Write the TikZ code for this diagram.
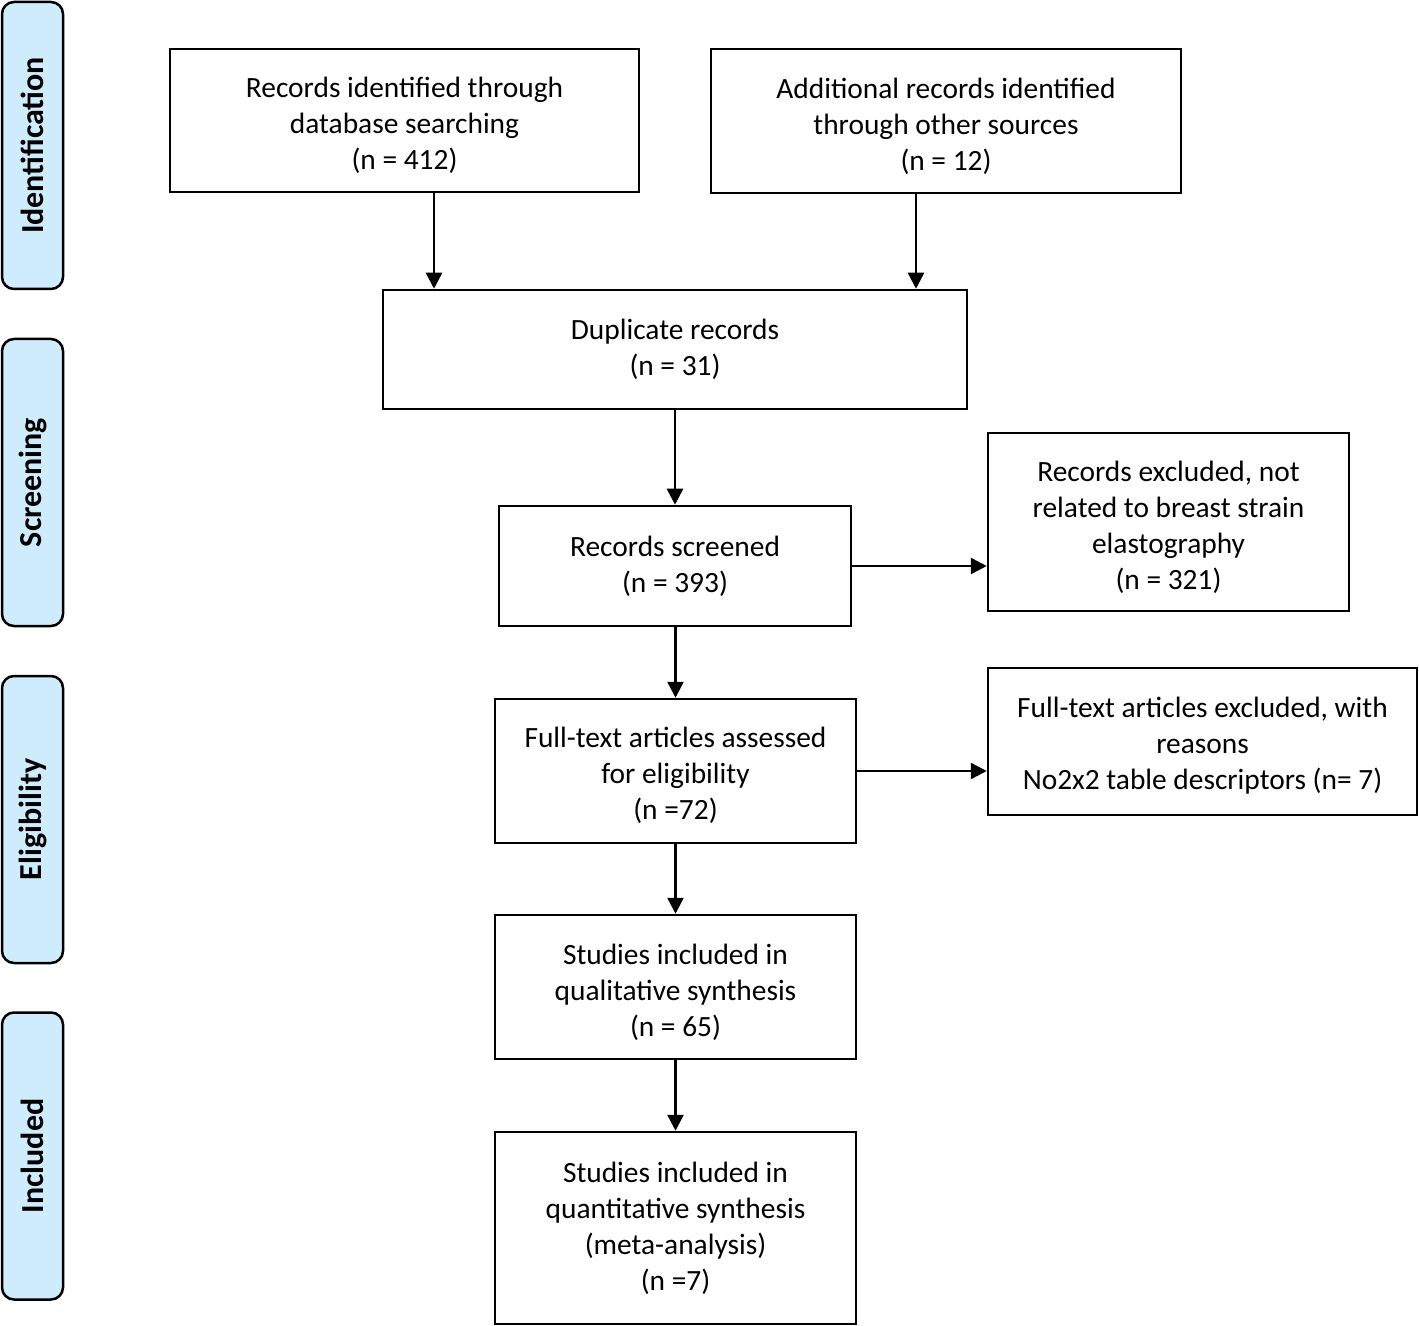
\documentclass[tikz,border=0pt]{standalone}
\usepackage{fontspec}
\setmainfont{Carlito}
\usetikzlibrary{positioning, arrows.meta}
\definecolor{phasecol}{RGB}{206,236,252}
\newcommand{\topgap}[1]{\rule{0pt}{#1}}

\begin{document}
\begin{tikzpicture}[x=0.5pt, y=-0.5pt,
		box/.style={draw, line width=1.25pt, align=center, inner sep=0pt, font=\fontsize{14.7}{18}\selectfont},
		phase/.style={draw, line width=1.25pt, fill=phasecol, rounded corners=6pt, rotate=90,
			minimum width=143.5pt, minimum height=30.5pt, inner sep=0pt, font=\bfseries\fontsize{16}{18}\selectfont},
		arr/.style={-{Triangle[length=8pt,width=8pt]}, line width=1.25pt}]
		\useasboundingbox (0,0) rectangle (1419,1326);

		% Add the phases
		\node[phase] (p1) at (32.5,145.5) {Identification};
		\node[phase] (p2) at (32.5,482.5) {Screening};
		\node[phase] (p3) at (32.5,819.5) {Eligibility};
		\node[phase] (p4) at (32.5,1156)  {Included};

		% Add the boxes
		\node[box, minimum width=234.5pt, minimum height=71.5pt] (db) at (404.5,120.5)
			{\topgap{15.3pt}Records identified through\\database searching\\(n = 412)};
		\node[box, minimum width=235pt, minimum height=72pt] (oth) at (946,121)
			{\topgap{15.3pt}Additional records identified\\through other sources\\(n = 12)};
		\node[box, minimum width=292pt, minimum height=59.5pt] (dup) at (675,349.5)
			{Duplicate records\\(n = 31)};
		\node[box, minimum width=176pt, minimum height=60pt] (scr) at (675,566)
			{Records screened\\(n = 393)};
		\node[box, minimum width=180.5pt, minimum height=89pt] (exa) at (1168.5,522)
			{\topgap{15.3pt}Records excluded, not\\related to breast strain\\elastography\\(n = 321)};
		\node[box, minimum width=180.5pt, minimum height=72pt] (full) at (675.5,771)
			{\topgap{14.3pt}Full-text articles assessed\\for eligibility\\(n =72)};
		\node[box, minimum width=214.5pt, minimum height=73.5pt] (exb) at (1202.5,741.5)
			{\topgap{14.3pt}Full-text articles excluded, with\\reasons\\No2x2 table descriptors (n= 7)};
		\node[box, minimum width=180.5pt, minimum height=72pt] (qual) at (675.5,987)
			{\topgap{15.3pt}Studies included in\\qualitative synthesis\\(n = 65)};
		\node[box, minimum width=180.5pt, minimum height=96pt] (quan) at (675.5,1228)
			{Studies included in\\quantitative synthesis\\(meta-analysis)\\(n =7)};

		% Connect the boxes with arrows
		\draw[arr] ([xshift=14.75pt]db.south) -- ([xshift=14.75pt]db.south |- dup.north);
		\draw[arr] ([xshift=-15pt]oth.south) -- ([xshift=-15pt]oth.south |- dup.north);
		\draw[arr] (dup.south) -- (scr.north);
		\draw[arr] (scr.east) -- (scr.east -| exa.west);
		\draw[arr] (scr.south -| full.north) -- (full.north);
		\draw[arr] (full.east) -- (full.east -| exb.west);
		\draw[arr] (full.south) -- (qual.north);
		\draw[arr] (qual.south) -- (quan.north);
	\end{tikzpicture}
\end{document}
